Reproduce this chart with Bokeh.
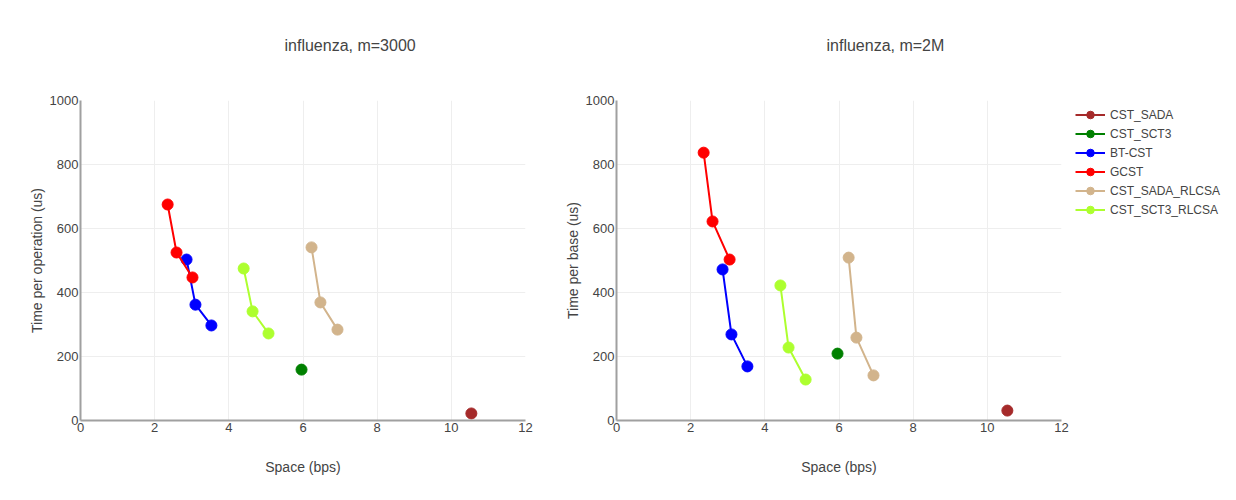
from bokeh.plotting import figure
from bokeh.layouts import row
from bokeh.models import FixedTicker, Legend, LegendItem, Range1d
from bokeh.embed import file_html
from bokeh.resources import INLINE

series_names = ["CST_SADA", "CST_SCT3", "BT-CST", "GCST", "CST_SADA_RLCSA", "CST_SCT3_RLCSA"]
series_colors = ["#a52a2a", "#008000", "#0000ff", "#ff0000", "#d2b48c", "#adff2f"]

# left panel: influenza, m=3000
m3000_x = {
    "CST_SADA": [10.54],
    "CST_SCT3": [5.96],
    "BT-CST": [2.86, 3.10, 3.53],
    "GCST": [2.35, 2.59, 3.02],
    "CST_SADA_RLCSA": [6.23, 6.47, 6.93],
    "CST_SCT3_RLCSA": [4.40, 4.64, 5.07],
}
m3000_y = {
    "CST_SADA": [22],
    "CST_SCT3": [159],
    "BT-CST": [503, 362, 297],
    "GCST": [675, 525, 447],
    "CST_SADA_RLCSA": [541, 369, 284],
    "CST_SCT3_RLCSA": [475, 341, 272],
}

# right panel: influenza, m=2M
m2M_x = {
    "CST_SADA": [10.54],
    "CST_SCT3": [5.96],
    "BT-CST": [2.86, 3.10, 3.53],
    "GCST": [2.35, 2.59, 3.05],
    "CST_SADA_RLCSA": [6.26, 6.47, 6.93],
    "CST_SCT3_RLCSA": [4.42, 4.64, 5.10],
}
m2M_y = {
    "CST_SADA": [31],
    "CST_SCT3": [209],
    "BT-CST": [472, 269, 169],
    "GCST": [837, 622, 503],
    "CST_SADA_RLCSA": [509, 259, 141],
    "CST_SCT3_RLCSA": [422, 228, 128],
}

x_ticks = [0, 2, 4, 6, 8, 10, 12]
y_ticks = [0, 200, 400, 600, 800, 1000]

FONT = "Liberation Sans"
TXT = "#444444"


def make_fig(title, ylabel, xs, ys, width, border_left, border_right, title_offset):
    p = figure(width=width, height=484, output_backend="svg", toolbar_location=None,
               x_range=Range1d(0, 12), y_range=Range1d(0, 1000),
               min_border_left=border_left, min_border_right=border_right,
               min_border_top=100, min_border_bottom=64,
               frame_width=445, frame_height=320, title=title + "\n ")
    p.title.text_font = FONT
    p.title.text_font_size = "16px"
    p.title.text_color = TXT
    p.title.text_font_style = "normal"
    p.title.align = "left"
    p.title.offset = title_offset
    p.title.standoff = 60
    p.outline_line_color = None
    p.background_fill_color = "white"
    p.border_fill_color = "white"
    for ax, ticks in ((p.xaxis, x_ticks), (p.yaxis, y_ticks)):
        ax.ticker = FixedTicker(ticks=ticks)
        ax.major_tick_out = 0
        ax.major_tick_in = 0
        ax.minor_tick_out = 0
        ax.minor_tick_in = 0
        ax.axis_line_color = "#a0a0a0"
        ax.axis_line_width = 2
        ax.major_label_text_font = FONT
        ax.major_label_text_font_size = "13px"
        ax.major_label_text_color = TXT
        ax.axis_label_text_font = FONT
        ax.axis_label_text_font_size = "14px"
        ax.axis_label_text_color = TXT
        ax.axis_label_text_font_style = "normal"
    p.xaxis.axis_label = "Space (bps)"
    p.yaxis.axis_label = ylabel
    p.xaxis.major_label_standoff = 2
    p.xaxis.axis_label_standoff = 24
    p.yaxis.major_label_standoff = 2
    p.yaxis.axis_label_standoff = 2
    p.grid.grid_line_color = "#eeeeee"
    p.grid.grid_line_width = 1
    items = []
    for name, col in zip(series_names, series_colors):
        r1 = p.line(xs[name], ys[name], line_color=col, line_width=2)
        r2 = p.scatter(xs[name], ys[name], size=11, fill_color=col, line_color=col)
        items.append(LegendItem(label=name, renderers=[r1, r2]))
    return p, items


p1, _ = make_fig("influenza, m=3000", "Time per operation (us)", m3000_x, m3000_y, 544, 80, 19, 204)
p2, items = make_fig("influenza, m=2M", "Time per base (us)", m2M_x, m2M_y, 676, 72, 159, 210)

legend = Legend(items=items, location=(14, 201))
legend.label_text_font = FONT
legend.label_text_font_size = "12px"
legend.label_text_color = TXT
legend.glyph_width = 30
legend.glyph_height = 19
legend.label_height = 19
legend.label_standoff = 5
legend.spacing = 0
legend.padding = 0
legend.margin = 0
legend.border_line_color = None
legend.background_fill_alpha = 0
p2.add_layout(legend, "right")

layout = row(p1, p2)
open("out.html", "w").write(file_html(layout, INLINE))
